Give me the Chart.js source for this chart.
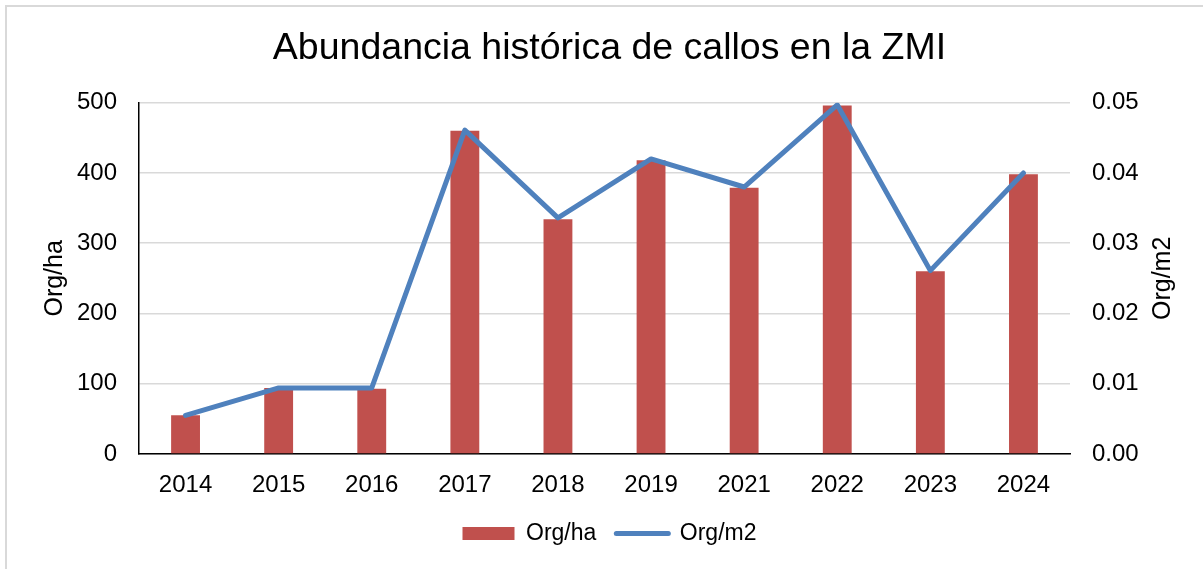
<!DOCTYPE html>
<html>
<head>
<meta charset="utf-8">
<script src="https://cdn.jsdelivr.net/npm/chart.js@4"></script>
<style>
  html, body { margin: 0; padding: 0; background: #fff; }
  #wrap { position: relative; width: 1203px; height: 569px; }
  #frame { position: absolute; left: 5px; top: 5px; width: 1300px; height: 700px;
           border-left: 2px solid #d9d9d9; border-top: 2px solid #d9d9d9; pointer-events: none; }
</style>
</head>
<body>
<div id="wrap">
  <canvas id="ch" width="1203" height="569"></canvas>
  <div id="frame"></div>
</div>
<script>
const years  = ['2014', '2015', '2016', '2017', '2018', '2019', '2021', '2022', '2023', '2024'];
const orgHa  = [55, 94, 93, 460, 334, 418, 379, 496, 260, 398];
const orgM2  = [0.0055, 0.0094, 0.0094, 0.0461, 0.0336, 0.0420, 0.0380, 0.0497, 0.0261, 0.0400];
const haTicks = [0, 100, 200, 300, 400, 500];
const m2Ticks = [0, 0.01, 0.02, 0.03, 0.04, 0.05];

const FONT = '"Liberation Sans", Arial, sans-serif';
Chart.defaults.font.family = FONT;
Chart.defaults.color = '#000';

// right axis title reads bottom-to-top like the left one
const rightTitle = {
  id: 'rightTitle',
  afterDraw(chart) {
    const { ctx, chartArea } = chart;
    ctx.save();
    ctx.translate(1163, (chartArea.top + chartArea.bottom) / 2);
    ctx.rotate(-Math.PI / 2);
    ctx.font = '25px ' + FONT;
    ctx.fillStyle = '#000';
    ctx.textAlign = 'center';
    ctx.textBaseline = 'middle';
    ctx.fillText('Org/m2', 0, 0);
    ctx.restore();
  }
};

new Chart(document.getElementById('ch'), {
  type: 'bar',
  data: {
    labels: years,
    datasets: [{
      type: 'bar',
      label: 'Org/ha',
      data: orgHa,
      yAxisID: 'y',
      backgroundColor: '#c0504d',
      borderWidth: 0,
      barPercentage: 0.31,
      categoryPercentage: 1,
      order: 1,
    }, {
      type: 'line',
      label: 'Org/m2',
      data: orgM2,
      yAxisID: 'y1',
      borderColor: '#4f81bd',
      backgroundColor: '#4f81bd',
      borderWidth: 5,
      borderJoinStyle: 'round',
      borderCapStyle: 'round',
      pointRadius: 0,
      tension: 0,
      order: 0,
    }],
  },
  options: {
    responsive: false,
    animation: false,
    layout: { padding: { top: 0, left: 16, right: 0, bottom: 14 } },
    plugins: {
      title: {
        display: true,
        text: 'Abundancia histórica de callos en la ZMI',
        font: { size: 37.5, weight: 'normal' },
        color: '#000',
        padding: { top: 26.5, bottom: 31.2 },
      },
      legend: {
        position: 'bottom',
        labels: {
          font: { size: 23 },
          usePointStyle: true,
          pointStyleWidth: 52,
          boxHeight: 13,
          padding: 20,
          generateLabels: chart => chart.data.datasets.map((ds, i) => ({
            text: ds.label,
            fillStyle: ds.backgroundColor,
            strokeStyle: ds.type === 'line' ? ds.borderColor : ds.backgroundColor,
            lineWidth: ds.type === 'line' ? 5 : 0,
            lineCap: 'round',
            pointStyle: ds.type === 'line' ? 'line' : 'rect',
            fontColor: '#000',
            hidden: false,
            datasetIndex: i,
          })),
        },
      },
      tooltip: { enabled: false },
    },
    scales: {
      x: {
        grid: { display: false },
        border: { color: '#000', width: 1.5 },
        ticks: { font: { size: 24 }, padding: 8.5 },
        afterFit: s => { s.height = 48; },
      },
      y: {
        position: 'left',
        min: 0, max: 500,
        afterBuildTicks: s => { s.ticks = haTicks.map(v => ({ value: v })); },
        grid: { color: '#d9d9d9', lineWidth: 1.5, drawTicks: false },
        border: { color: '#000', width: 1.5 },
        ticks: { font: { size: 24 }, padding: 22 },
        title: { display: true, text: 'Org/ha', font: { size: 25 }, padding: { top: 24 } },
        afterFit: s => { s.width = 123; },
      },
      y1: {
        position: 'right',
        min: 0, max: 0.05,
        afterBuildTicks: s => { s.ticks = m2Ticks.map(v => ({ value: v })); },
        grid: { display: false, drawTicks: false },
        border: { display: false },
        ticks: { font: { size: 24 }, padding: 22, callback: v => v.toFixed(2) },
        afterFit: s => { s.width = 133; },
      },
    },
  },
  plugins: [rightTitle],
});
</script>
</body>
</html>
